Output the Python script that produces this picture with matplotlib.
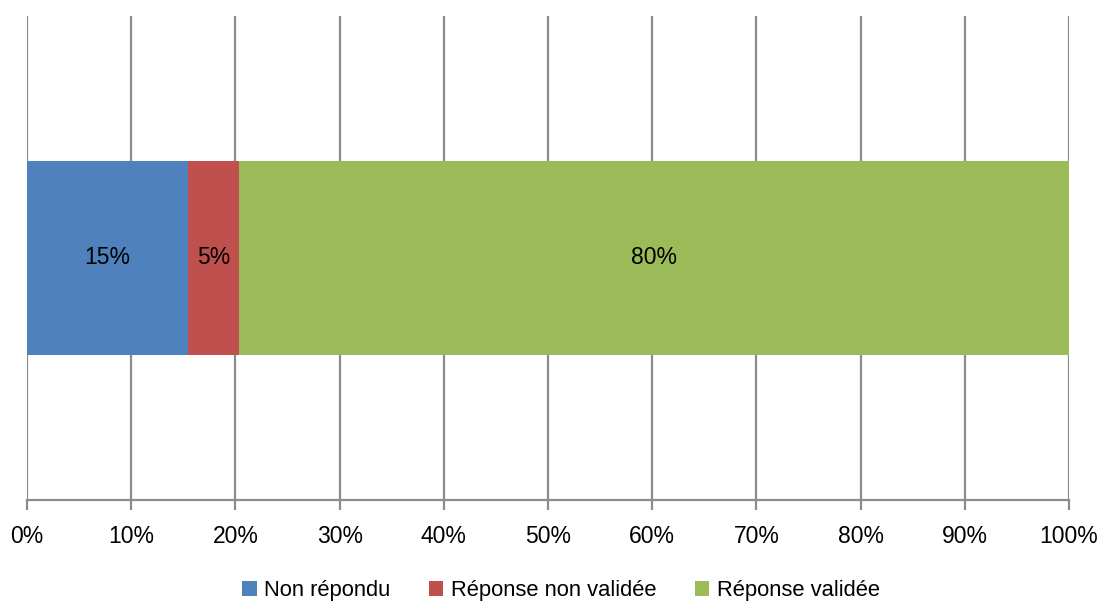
import numpy as np
import matplotlib.pyplot as plt
from matplotlib.ticker import PercentFormatter

# Répartition des réponses (en %)
categories = ['Non répondu', 'Réponse non validée', 'Réponse validée']
valeurs = [15.45, 4.9, 79.65]
couleurs = ['#4F81BD', '#C0504D', '#9BBB59']
ticks = np.arange(0, 101, 10)

plt.rcParams['font.family'] = ['Liberation Sans', 'DejaVu Sans']

fig = plt.figure(figsize=(11.02, 6.01), dpi=100)
ax = fig.add_axes([27 / 1102, 101 / 601, 1042 / 1102, 484 / 601])

gauche = 0
for nom, v, c in zip(categories, valeurs, couleurs):
    ax.barh(0, v, left=gauche, height=0.4, color=c, label=nom, zorder=3)
    ax.text(gauche + v / 2, 0, f'{v:.0f}%', ha='center', va='center',
            fontsize=16.5, color='black', zorder=4)
    gauche += v

ax.set_xlim(0, 100)
ax.set_ylim(-0.5, 0.5)
ax.set_xticks(ticks)
ax.xaxis.set_major_formatter(PercentFormatter(decimals=0))
ax.set_yticks([])
ax.grid(axis='x', color='#8C8C8C', linewidth=1.6, zorder=0)

for s in ['top', 'right', 'left']:
    ax.spines[s].set_visible(False)
ax.spines['bottom'].set_color('#8C8C8C')
ax.spines['bottom'].set_linewidth(1.6)
ax.tick_params(axis='x', colors='#8C8C8C', length=7, width=1.6,
               labelcolor='black', labelsize=16.5, pad=11)

ax.legend(loc='center', bbox_to_anchor=(0.5125, -0.187), ncol=3,
          frameon=False, fontsize=15.8, handlelength=0.65, handleheight=0.65,
          handletextpad=0.35, columnspacing=1.75)

fig.savefig('out.png', dpi=100)
